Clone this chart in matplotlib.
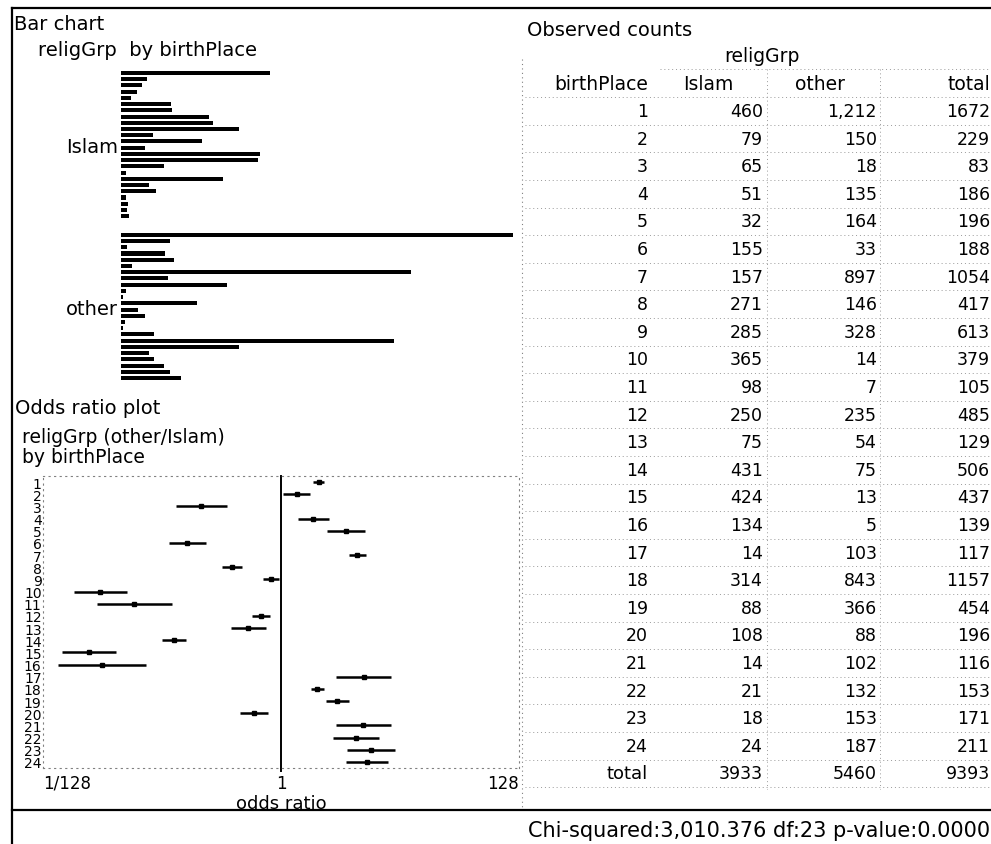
import matplotlib
matplotlib.use("Agg")
import matplotlib.pyplot as plt

W, H = 991, 845

# observed counts, birthPlace 1..24
places = list(range(1, 25))
islam = [460, 79, 65, 51, 32, 155, 157, 271, 285, 365, 98, 250,
         75, 431, 424, 134, 14, 314, 88, 108, 14, 21, 18, 24]
other = [1212, 150, 18, 135, 164, 33, 897, 146, 328, 14, 7, 235,
         54, 75, 13, 5, 103, 843, 366, 88, 102, 132, 153, 187]
total = [1672, 229, 83, 186, 196, 188, 1054, 417, 613, 379, 105, 485,
         129, 506, 437, 139, 117, 1157, 454, 196, 116, 153, 171, 211]
col_totals = [3933, 5460, 9393]

# odds ratio (other/Islam) with 95% interval
odds = [2.15, 1.38, 0.197, 1.93, 3.78, 0.148, 4.73, 0.371, 0.818, 0.0251, 0.0502, 0.663,
        0.514, 0.113, 0.0198, 0.026, 5.38, 2.10, 3.14, 0.580, 5.33, 4.62, 6.27, 5.78]
odds_lo = [1.92, 1.05, 0.117, 1.40, 2.58, 0.102, 3.97, 0.302, 0.694, 0.0147, 0.0233, 0.552,
           0.361, 0.088, 0.0114, 0.0106, 3.08, 1.84, 2.48, 0.437, 3.04, 2.91, 3.84, 3.77]
odds_hi = [2.42, 1.82, 0.332, 2.67, 5.53, 0.216, 5.63, 0.456, 0.964, 0.0429, 0.108, 0.796,
           0.731, 0.145, 0.0344, 0.0635, 9.42, 2.41, 3.98, 0.771, 9.33, 7.33, 10.24, 8.85]

chi_text = "Chi-squared:3,010.376 df:23 p-value:0.0000"

plt.rcParams['font.family'] = 'DejaVu Sans'

fig = plt.figure(figsize=(W / 100, H / 100), dpi=100)


def box(x0, y0, x1, y1):
    return [x0 / W, 1 - y1 / H, (x1 - x0) / W, (y1 - y0) / H]


bg = fig.add_axes([0, 0, 1, 1])
bg.set_xlim(0, W)
bg.set_ylim(H, 0)
bg.axis('off')

# frame
bg.plot([12, W], [9, 9], color='k', lw=1.6)
bg.plot([12, 12], [9, H], color='k', lw=1.6)
bg.plot([12, W], [811, 811], color='k', lw=1.6)
bg.plot([522, 522], [60, 808], color='0.5', lw=0.8, ls=(0, (1, 3)))

# titles
bg.text(14, 25, "Bar chart", fontsize=14, va='center')
bg.text(38, 50, "religGrp  by birthPlace", fontsize=14, va='center')
bg.text(15, 409, "Odds ratio plot", fontsize=14, va='center')
bg.text(22, 438, "religGrp (other/Islam)", fontsize=13.5, va='center')
bg.text(22, 458, "by birthPlace", fontsize=13.5, va='center')

# bar chart
ax = fig.add_axes(box(121, 70.9, 513, 382.1))
ypos_islam = [i for i in range(24)]
ypos_other = [26 + i for i in range(24)]
ax.barh(ypos_islam, islam, height=0.65, color='k')
ax.barh(ypos_other, other, height=0.65, color='k')
ax.set_xlim(0, 1212)
ax.set_ylim(49.5, -0.5)
ax.set_yticks([11.5, 37.5])
ax.set_yticklabels(["Islam", "other"], fontsize=14)
ax.tick_params(axis='y', length=0, pad=2)
ax.set_xticks([])
for s in ax.spines.values():
    s.set_visible(False)
ax.patch.set_alpha(0)

# odds ratio plot
ox = fig.add_axes(box(43, 477, 519, 769))
xerr = [[o - l for o, l in zip(odds, odds_lo)], [h - o for o, h in zip(odds, odds_hi)]]
ox.errorbar(odds, places, xerr=xerr, fmt='s', color='k', ms=3.5,
            elinewidth=1.8, capsize=0)
ox.set_xscale('log', base=2)
ox.set_xlim(2 ** -7, 2 ** 7)
ox.set_ylim(24.5, 0.5)
ox.axvline(1, color='k', lw=1.4, ymin=-0.01, ymax=1.0, clip_on=False)
ox.minorticks_off()
ox.set_yticks(places)
ox.set_yticklabels([str(p) for p in places], fontsize=10)
ox.tick_params(axis='y', length=0, pad=1)
ox.set_xticks([2 ** -7, 1, 2 ** 7])
ox.set_xticklabels(["1/128", "1", "128"], fontsize=12)
ox.tick_params(axis='x', length=0, pad=4)
xl = ox.get_xticklabels()
xl[0].set_ha('left')
xl[2].set_ha('right')
ox.set_xlabel("odds ratio", fontsize=13, labelpad=2)
for s in ox.spines.values():
    s.set_color('0.5')
    s.set_linewidth(0.8)
    s.set_linestyle((0, (1, 4)))
ox.patch.set_alpha(0)

# observed counts table
bg.text(527, 30, "Observed counts", fontsize=14, va='center')
bg.text(762, 57, "religGrp", fontsize=13.5, va='center', ha='center')
hy = 84
bg.text(648, hy, "birthPlace", fontsize=13.5, va='center', ha='right')
bg.text(683, hy, "Islam", fontsize=13.5, va='center')
bg.text(795, hy, "other", fontsize=13.5, va='center')
bg.text(990, hy, "total", fontsize=13.5, va='center', ha='right')

y0, dy = 112, 27.6
for i, p in enumerate(places):
    y = y0 + i * dy
    bg.text(648, y, str(p), fontsize=12.5, va='center', ha='right')
    bg.text(763, y, str(islam[i]), fontsize=12.5, va='center', ha='right')
    bg.text(877, y, f"{other[i]:,}", fontsize=12.5, va='center', ha='right')
    bg.text(990, y, str(total[i]), fontsize=12.5, va='center', ha='right')
yt = y0 + 24 * dy
bg.text(648, yt, "total", fontsize=13, va='center', ha='right')
bg.text(763, yt, str(col_totals[0]), fontsize=12.5, va='center', ha='right')
bg.text(877, yt, str(col_totals[1]), fontsize=12.5, va='center', ha='right')
bg.text(990, yt, str(col_totals[2]), fontsize=12.5, va='center', ha='right')

grid = dict(color='0.6', lw=0.7, ls=(0, (1, 3)))
bg.plot([660, W], [70, 70], **grid)
for i in range(26):
    y = y0 + (i - 0.5) * dy
    bg.plot([525, W], [y, y], **grid)
bg.plot([767, 767], [70, 790], **grid)
bg.plot([880, 880], [70, 790], **grid)

# footer
bg.text(990, 831, chi_text, fontsize=15, va='center', ha='right')

fig.savefig('out.png', dpi=100)
